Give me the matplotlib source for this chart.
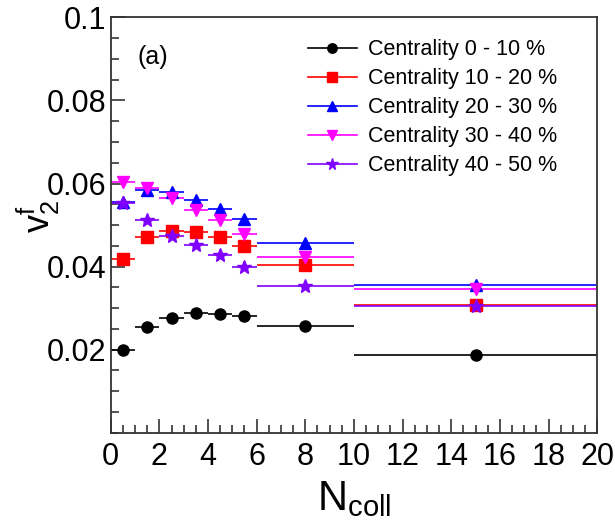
import matplotlib
matplotlib.use('Agg')
import matplotlib.pyplot as plt
from matplotlib.lines import Line2D
from matplotlib.ticker import MultipleLocator

plt.rcParams['font.family'] = ['Liberation Sans', 'DejaVu Sans']
plt.rcParams['mathtext.fontset'] = 'custom'
plt.rcParams['mathtext.rm'] = 'Liberation Sans'
plt.rcParams['mathtext.it'] = 'Liberation Sans'

# bins in N_coll
ncoll = [0.5, 1.5, 2.5, 3.5, 4.5, 5.5, 8, 15]
ncoll_err = [0.5, 0.5, 0.5, 0.5, 0.5, 0.5, 2, 5]

labels = ['Centrality 0 - 10 %', 'Centrality 10 - 20 %', 'Centrality 20 - 30 %',
          'Centrality 30 - 40 %', 'Centrality 40 - 50 %']
v2_c0_10 = [0.0200, 0.0254, 0.0277, 0.0288, 0.0286, 0.0281, 0.0257, 0.0188]
v2_c10_20 = [0.0419, 0.0470, 0.0485, 0.0483, 0.0470, 0.0450, 0.0403, 0.0308]
v2_c20_30 = [0.0556, 0.0585, 0.0580, 0.0561, 0.0539, 0.0515, 0.0456, 0.0356]
v2_c30_40 = [0.0604, 0.0588, 0.0566, 0.0535, 0.0512, 0.0479, 0.0423, 0.0346]
v2_c40_50 = [0.0552, 0.0513, 0.0473, 0.0453, 0.0427, 0.0399, 0.0354, 0.0306]
series = [v2_c0_10, v2_c10_20, v2_c20_30, v2_c30_40, v2_c40_50]

colors = ['black', '#ff0000', '#0000ff', '#ff00ff', '#8000ff']
markers = ['o', 's', '^', 'v', '*']
msizes = [8, 8, 8, 8, 10]

fig = plt.figure(figsize=(6.15, 5.27), dpi=100)
ax = fig.add_axes([0.18, 0.179, 0.791, 0.788])

handles = []
for vals, c, m, ms, lab in zip(series, colors, markers, msizes, labels):
    ax.errorbar(ncoll, vals, xerr=ncoll_err, fmt=m, color=c, ms=ms,
                elinewidth=1.2, capsize=0, mec=c, mfc=c)
    handles.append(Line2D([], [], color=c, marker=m, ms=ms * 0.85, lw=1.2))

ax.set_xlim(0, 20)
ax.set_ylim(0, 0.1)
ax.xaxis.set_major_locator(MultipleLocator(2))
ax.xaxis.set_minor_locator(MultipleLocator(0.5))
ax.set_yticks([0.02, 0.04, 0.06, 0.08, 0.1])
ax.set_yticklabels(['0.02', '0.04', '0.06', '0.08', '0.1'])
ax.yaxis.set_minor_locator(MultipleLocator(0.005))
ax.tick_params(which='both', direction='in', top=False, right=False,
               labelsize=22, color='#333333', width=1.2)
ax.tick_params(which='major', length=10)
ax.tick_params(which='minor', length=5.5)
ax.tick_params(axis='x', pad=7)
ax.tick_params(axis='y', pad=3)
for s in ax.spines.values():
    s.set_color('#333333')
    s.set_linewidth(1.3)

ax.set_xlabel(r'$\mathregular{N_{coll}}$', fontsize=30, labelpad=5)
ax.set_ylabel(r'$\mathregular{v_{2}^{f}}$', fontsize=26)
ax.yaxis.set_label_coords(-0.1, 0.52)

ax.text(0.056, 0.905, '(a)', transform=ax.transAxes, fontsize=18, va='center')

ax.legend(handles, labels, loc='upper left', bbox_to_anchor=(0.387, 0.968),
          frameon=False, fontsize=15.5, handlelength=2.3, handletextpad=0.5,
          labelspacing=0.37, borderaxespad=0)

fig.savefig('out.png', dpi=100)
